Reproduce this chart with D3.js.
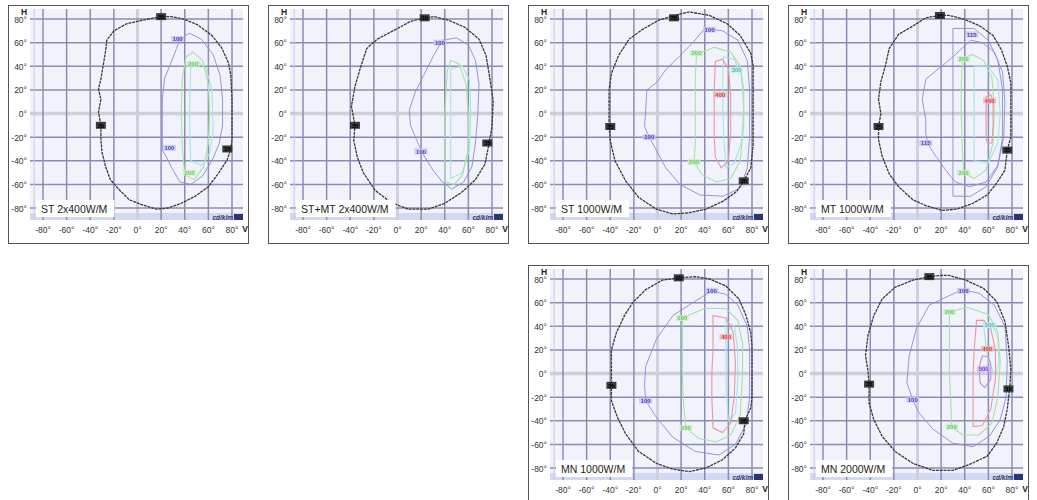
<!DOCTYPE html>
<html>
<head>
<meta charset="utf-8">
<script src="https://cdn.jsdelivr.net/npm/d3@7"></script>
<style>
  body { margin: 0; background: #fff; }
  text { font-family: Arial, "Liberation Sans", sans-serif; }
</style>
</head>
<body>
<svg id="chart" width="1037" height="500"></svg>
<script>
// axis ticks (degrees)
const vTicks = [-80, -60, -40, -20, 0, 20, 40, 60, 80];
const hTicks = [80, 60, 40, 20, 0, -20, -40, -60, -80];

const panelTitles = ['ST 2x400W/M', 'ST+MT 2x400W/M', 'ST 1000W/M', 'MT 1000W/M', 'MN 1000W/M', 'MN 2000W/M'];

// contours as [V, H] in degrees
const st2x400Outer = [[20,82],[9,80],[-9,76],[-20,70],[-26,62],[-27,53],[-29,41],[-31,29],[-33,21],[-31,12],[-33,1],[-31,-10],[-31,-22],[-30,-33],[-27,-45],[-23,-56],[-16,-64],[-7,-73],[3,-77],[16,-81],[26,-80],[37,-76],[49,-70],[60,-62],[69,-50],[76,-39],[79,-30],[80,-22],[80,-5],[80,12],[79,32],[77,43],[71,56],[63,66],[51,75],[39,80],[29,82]];
const st2x400Blue = [[21,-31],[21,-10],[21,12],[23,30],[28,42],[33,55],[36,63],[44,68],[54,63],[64,50],[70,32],[72,12],[72,-10],[69,-26],[63,-40],[55,-53],[45,-60],[36,-58],[29,-46],[24,-36]];
const st2x400Green = [[40,-52],[38,-30],[37,0],[38,30],[41,48],[47,52],[55,45],[60,25],[61,0],[60,-25],[56,-45],[48,-56]];
const st2x400Cyan = [[45,-40],[44,0],[45,38],[51,44],[58,38],[63,20],[64,-15],[61,-34],[54,-44]];
const st2x400Labels = [['35',20,82,'outer'],['35',-31,-10,'outer'],['35',76,-30,'outer'],['100',34,63,'blue'],['100',27,-29,'blue'],['200',47,42,'green'],['200',44,-50,'green']];

const stmtOuter = [[23,81],[11,78],[0,72],[-17,63],[-26,55],[-31,40],[-36,23],[-39,6],[-36,-10],[-37,-23],[-34,-37],[-29,-50],[-19,-65],[-6,-75],[9,-81],[26,-81],[40,-76],[54,-67],[66,-56],[74,-43],[77,-28],[80,-11],[81,11],[78,31],[75,49],[69,63],[57,73],[43,79],[31,82]];
const stmtBlue = [[38,62],[30,48],[22,32],[15,18],[10,3],[11,-10],[16,-22],[22,-35],[30,-48],[38,-58],[46,-64],[56,-58],[63,-45],[66,-25],[68,0],[69,25],[66,45],[60,58],[50,64]];
const stmtGreen = [[40,-58],[40,-30],[40,0],[42,35],[45,45],[52,42],[58,25],[60,0],[60,-30],[55,-52],[48,-60]];
const stmtCyan = [[45,-55],[45,0],[45,38],[55,40],[61,28],[62,0],[61,-30],[55,-50]];
const stmtLabels = [['35',23,81,'outer'],['35',-36,-10,'outer'],['35',76,-25,'outer'],['100',36,60,'blue'],['100',20,-32,'blue']];

const st1000Outer = [[18,84],[1,79],[-13,71],[-24,63],[-33,49],[-39,34],[-41,20],[-41,5],[-41,-10],[-40,-23],[-36,-40],[-27,-57],[-16,-71],[-1,-81],[13,-85],[27,-84],[41,-81],[56,-74],[67,-66],[73,-57],[79,-46],[81,-26],[81,3],[81,40],[79,51],[70,66],[59,76],[44,83],[27,86]];
const st1000Blue = [[40,72],[30,60],[19,49],[7,37],[-1,26],[-9,20],[-10,3],[-11,-11],[-7,-20],[-1,-31],[7,-46],[19,-60],[36,-69],[56,-70],[70,-63],[76,-46],[78,-20],[78,20],[76,45],[68,62],[55,70]];
const st1000Green = [[33,50],[32,30],[32,0],[32,-25],[31,-41],[38,-52],[50,-58],[62,-55],[70,-40],[73,-10],[73,20],[70,40],[62,52],[48,56]];
const st1000Red = [[49,44],[48,20],[48,0],[48,-20],[49,-37],[54,-46],[60,-40],[62,-15],[62,15],[60,38],[55,46]];
const st1000Cyan = [[56,48],[65,46],[71,32],[73,5],[71,-25],[65,-42],[58,-46],[56,-20],[55,20]];
const st1000Labels = [['35',14,81,'outer'],['35',-40,-11,'outer'],['35',73,-57,'outer'],['100',44,71,'blue'],['100',-7,-20,'blue'],['200',33,51,'green'],['200',31,-41,'green'],['400',53,16,'red'],['300',67,37,'cyan']];

const mt1000Outer = [[19,83],[7,81],[-4,74],[-16,67],[-24,55],[-27,41],[-31,27],[-33,12],[-31,0],[-33,-11],[-33,-22],[-30,-36],[-24,-51],[-16,-62],[-4,-73],[7,-78],[21,-82],[33,-81],[47,-76],[59,-69],[67,-59],[74,-48],[76,-31],[79,-20],[79,3],[79,26],[76,40],[71,54],[64,66],[53,74],[39,80],[27,83]];
const mt1000Box = [[30,72],[48,72],[60,62],[68,45],[72,20],[72,-20],[68,-45],[58,-62],[45,-70],[30,-70],[30,-30],[30,30]];
const mt1000Blue = [[45,62],[30,48],[18,38],[7,29],[4,12],[7,-5],[7,-17],[9,-26],[14,-34],[24,-48],[32,-58],[44,-62],[58,-58],[68,-44],[73,-20],[74,10],[72,35],[65,52],[55,60]];
const mt1000Green = [[38,46],[37,20],[37,0],[38,-30],[39,-50],[48,-55],[58,-48],[64,-25],[65,5],[63,30],[56,45],[46,50]];
const mt1000Red = [[58,14],[58,0],[58,-20],[59,-25],[63,-25],[64,-10],[64,10],[62,16]];
const mt1000Cyan = [[48,40],[48,0],[48,-40],[60,-42],[68,-25],[70,0],[68,28],[60,40]];
const mt1000Labels = [['35',19,83,'outer'],['35',-33,-11,'outer'],['35',76,-31,'outer'],['115',46,67,'blue'],['115',7,-25,'blue'],['200',39,46,'green'],['200',39,-50,'green'],['400',61,11,'red']];

const mn1000Outer = [[18,81],[4,79],[-10,71],[-21,60],[-28,49],[-35,34],[-39,20],[-39,6],[-39,-10],[-39,-23],[-34,-37],[-27,-51],[-16,-66],[-1,-76],[13,-81],[27,-83],[41,-80],[55,-73],[66,-63],[73,-51],[74,-40],[79,-29],[80,-20],[80,0],[80,23],[79,34],[75,49],[69,63],[58,74],[44,80],[32,82]];
const mn1000Blue = [[46,70],[30,60],[13,49],[-1,29],[-10,6],[-11,-10],[-10,-23],[-1,-37],[13,-54],[32,-66],[52,-69],[66,-60],[75,-43],[78,-20],[78,20],[76,40],[68,58],[58,67]];
const mn1000Green = [[21,47],[21,20],[21,0],[22,-25],[24,-46],[35,-55],[50,-58],[62,-52],[70,-35],[72,0],[72,25],[68,45],[58,55],[40,55]];
const mn1000Red = [[47,49],[47,20],[46,0],[46,-20],[47,-46],[55,-50],[62,-42],[65,-20],[66,10],[64,35],[58,47]];
const mn1000Cyan = [[58,45],[65,40],[68,20],[68,-5],[66,-34],[60,-40],[58,-10]];
const mn1000Labels = [['35',18,81,'outer'],['35',-39,-10,'outer'],['35',73,-40,'outer'],['100',46,70,'blue'],['100',-10,-23,'blue'],['200',21,47,'green'],['200',24,-46,'green'],['400',58,31,'red']];

const mn2000Outer = [[10,82],[-4,79],[-19,73],[-30,63],[-37,49],[-42,32],[-44,15],[-42,3],[-41,-9],[-41,-25],[-37,-39],[-30,-53],[-19,-66],[-4,-76],[13,-82],[30,-82],[44,-77],[59,-70],[67,-59],[73,-45],[76,-30],[78,-13],[79,4],[77,24],[74,44],[67,61],[56,72],[41,79],[27,83],[19,83]];
const mn2000Blue = [[38,71],[25,65],[10,58],[-1,38],[-7,15],[-9,-8],[-4,-22],[1,-33],[13,-47],[30,-59],[47,-62],[61,-53],[70,-39],[75,-20],[76,10],[74,40],[65,58],[52,68]];
const mn2000Green = [[27,52],[27,20],[27,0],[28,-20],[29,-45],[38,-52],[52,-52],[63,-42],[68,-20],[70,10],[68,35],[60,50],[42,56]];
const mn2000Red = [[50,45],[48,20],[47,0],[47,-20],[47,-45],[55,-44],[62,-30],[66,-5],[66,20],[62,38],[56,45]];
const mn2000Cyan = [[56,44],[63,42],[68,30],[69,10],[66,-2],[60,10],[57,30]];
const mn2000Purple = [[55,15],[52,5],[53,-8],[57,-12],[62,-5],[62,8],[60,14]];
const mn2000Labels = [['35',10,82,'outer'],['35',-41,-9,'outer'],['35',77,-13,'dgreen'],['100',39,70,'blue'],['100',-4,-22,'blue'],['200',27,52,'green'],['200',29,-45,'green'],['300',61,41,'cyan'],['400',59,21,'red'],['500',56,4,'purple']];

// table built from the arrays above
const panelData = [
  { outer: st2x400Outer, inner: [['cyan', st2x400Cyan], ['green', st2x400Green], ['blue', st2x400Blue]], labels: st2x400Labels },
  { outer: stmtOuter, inner: [['cyan', stmtCyan], ['green', stmtGreen], ['blue', stmtBlue]], labels: stmtLabels },
  { outer: st1000Outer, inner: [['cyan', st1000Cyan], ['green', st1000Green], ['red', st1000Red], ['blue', st1000Blue]], labels: st1000Labels },
  { outer: mt1000Outer, inner: [['cyan', mt1000Cyan], ['green', mt1000Green], ['red', mt1000Red], ['blue', mt1000Blue], ['blue', mt1000Box]], labels: mt1000Labels },
  { outer: mn1000Outer, inner: [['cyan', mn1000Cyan], ['green', mn1000Green], ['red', mn1000Red], ['blue', mn1000Blue]], labels: mn1000Labels },
  { outer: mn2000Outer, inner: [['cyan', mn2000Cyan], ['green', mn2000Green], ['red', mn2000Red], ['purple', mn2000Purple], ['blue', mn2000Blue]], labels: mn2000Labels }
];

const lineColor = { outer: '#3a3a3a', blue: '#8a8ad8', green: '#a6e2a6', cyan: '#a4e6e2', red: '#e89a9a', purple: '#b892e2' };
const labelFill = { outer: '#2a2a2a', dgreen: '#1f3a28', blue: '#c4c4f2', green: '#c8f0c0', cyan: '#c0eee8', red: '#f2b8b8', purple: '#d4bcf2' };
const labelText = { outer: '#000', dgreen: '#000', blue: '#4a4ab8', green: '#6cc86c', cyan: '#5cc0b8', red: '#c84848', purple: '#7a4ac0' };

const svg = d3.select('#chart');
const origins = [[8, 5], [268, 5], [528, 5], [788, 5], [528, 265], [788, 265]];
const panelW = 240, panelH = 238;
const plot = { l: 22, t: 4, r: 235, b: 215 };

const x = d3.scaleLinear().domain([-80, 80]).range([35, 224]);
const y = d3.scaleLinear().domain([80, -80]).range([14, 203]);

const line = d3.line().x(d => x(d[0])).y(d => y(d[1])).curve(d3.curveLinearClosed);

const defs = svg.append('defs');
defs.append('clipPath').attr('id', 'plotClip')
  .append('rect').attr('x', plot.l).attr('y', plot.t)
  .attr('width', plot.r - plot.l).attr('height', plot.b - plot.t);
defs.append('filter').attr('id', 'soft')
  .append('feGaussianBlur').attr('stdDeviation', 0.35);

panelData.forEach((p, i) => {
  const g = svg.append('g')
    .attr('transform', `translate(${origins[i][0]},${origins[i][1]})`);

  g.append('rect')
    .attr('x', 0.5).attr('y', 0.5)
    .attr('width', panelW).attr('height', panelH)
    .attr('fill', '#fff').attr('stroke', '#555').attr('stroke-width', 1);

  // plot background
  g.append('rect')
    .attr('x', plot.l).attr('y', plot.t)
    .attr('width', plot.r - plot.l).attr('height', plot.b - plot.t)
    .attr('fill', '#f1f2fb');
  g.append('rect')
    .attr('x', plot.l).attr('y', plot.b - 7)
    .attr('width', plot.r - plot.l).attr('height', 7)
    .attr('fill', '#d3d8f3');

  const grid = g.append('g').attr('clip-path', 'url(#plotClip)');
  // zero lines, wide and pale
  grid.append('line')
    .attr('x1', plot.l).attr('x2', plot.r).attr('y1', y(0)).attr('y2', y(0))
    .attr('stroke', '#cfcfd8').attr('stroke-width', 3.5);
  grid.append('line')
    .attr('x1', x(0)).attr('x2', x(0)).attr('y1', plot.t).attr('y2', plot.b)
    .attr('stroke', '#cfcfe0').attr('stroke-width', 3);

  grid.selectAll('.vg').data(vTicks.filter(d => d !== 0)).enter().append('line')
    .attr('x1', d => x(d)).attr('x2', d => x(d))
    .attr('y1', plot.t).attr('y2', plot.b)
    .attr('stroke', '#8a8db3').attr('stroke-width', 1.5);
  grid.selectAll('.hg').data(hTicks.filter(d => d !== 0)).enter().append('line')
    .attr('x1', plot.l).attr('x2', plot.r)
    .attr('y1', d => y(d)).attr('y2', d => y(d))
    .attr('stroke', '#8a8db3').attr('stroke-width', 1.5);
  // pale outer line near -90
  grid.selectAll('.eg').data([-90]).enter().append('line')
    .attr('x1', d => x(d) + 3).attr('x2', d => x(d) + 3)
    .attr('y1', plot.t).attr('y2', plot.b)
    .attr('stroke', '#c6c8e0').attr('stroke-width', 1);

  // contours
  const c = g.append('g').attr('clip-path', 'url(#plotClip)').attr('filter', 'url(#soft)');
  p.inner.forEach(([key, pts]) => {
    c.append('path')
      .attr('d', line(pts))
      .attr('fill', 'none')
      .attr('stroke', lineColor[key])
      .attr('stroke-width', key === 'blue' ? 0.9 : 1.1);
  });
  c.append('path')
    .attr('d', line(p.outer))
    .attr('fill', 'none')
    .attr('stroke', lineColor.outer)
    .attr('stroke-width', 1.3)
    .attr('stroke-dasharray', '3,0.8');

  // contour labels
  p.labels.forEach(([t, v, h, key]) => {
    const dark = key === 'outer' || key === 'dgreen';
    const w = dark ? 10 : 13, hh = dark ? 7 : 6;
    c.append('rect')
      .attr('x', x(v) - w / 2).attr('y', y(h) - hh / 2)
      .attr('width', w).attr('height', hh)
      .attr('fill', labelFill[key]).attr('opacity', dark ? 0.9 : 0.8);
    c.append('text')
      .attr('x', x(v)).attr('y', y(h) + 2.2)
      .attr('text-anchor', 'middle')
      .attr('font-size', 6).attr('font-weight', 'bold')
      .attr('fill', labelText[key])
      .text(t);
  });

  // tick labels
  g.selectAll('.yl').data(hTicks).enter().append('text')
    .attr('x', 19).attr('y', d => y(d) + 3.5)
    .attr('text-anchor', 'end')
    .attr('font-size', 8.5).attr('fill', '#333')
    .text(d => d + '°');
  g.selectAll('.xl').data(vTicks).enter().append('text')
    .attr('x', d => x(d)).attr('y', 228)
    .attr('text-anchor', 'middle')
    .attr('font-size', 8.5).attr('fill', '#333')
    .text(d => d + '°');
  g.append('text').attr('x', 16).attr('y', 9.5)
    .attr('text-anchor', 'middle')
    .attr('font-size', 8.5).attr('font-weight', 'bold').attr('fill', '#222')
    .text('H');
  g.append('text').attr('x', 237).attr('y', 227)
    .attr('text-anchor', 'middle')
    .attr('font-size', 8.5).attr('font-weight', 'bold').attr('fill', '#222')
    .text('V');

  // title box, sized to the text
  const tb = g.append('rect')
    .attr('x', 28).attr('y', 195).attr('height', 17)
    .attr('fill', '#fff');
  const tt = g.append('text')
    .attr('x', 33).attr('y', 207.5)
    .attr('font-size', 10.5).attr('fill', '#222')
    .text(panelTitles[i]);
  tb.attr('width', tt.node().getComputedTextLength() + 12);

  // unit mark
  g.append('rect')
    .attr('x', 226).attr('y', 209).attr('width', 9).attr('height', 6)
    .attr('fill', '#2a3670');
  g.append('text')
    .attr('x', 225).attr('y', 214.5)
    .attr('text-anchor', 'end')
    .attr('font-size', 6.5).attr('font-weight', 'bold').attr('font-style', 'italic')
    .attr('fill', '#2a3670')
    .text('cd/klm');
});
</script>
</body>
</html>
